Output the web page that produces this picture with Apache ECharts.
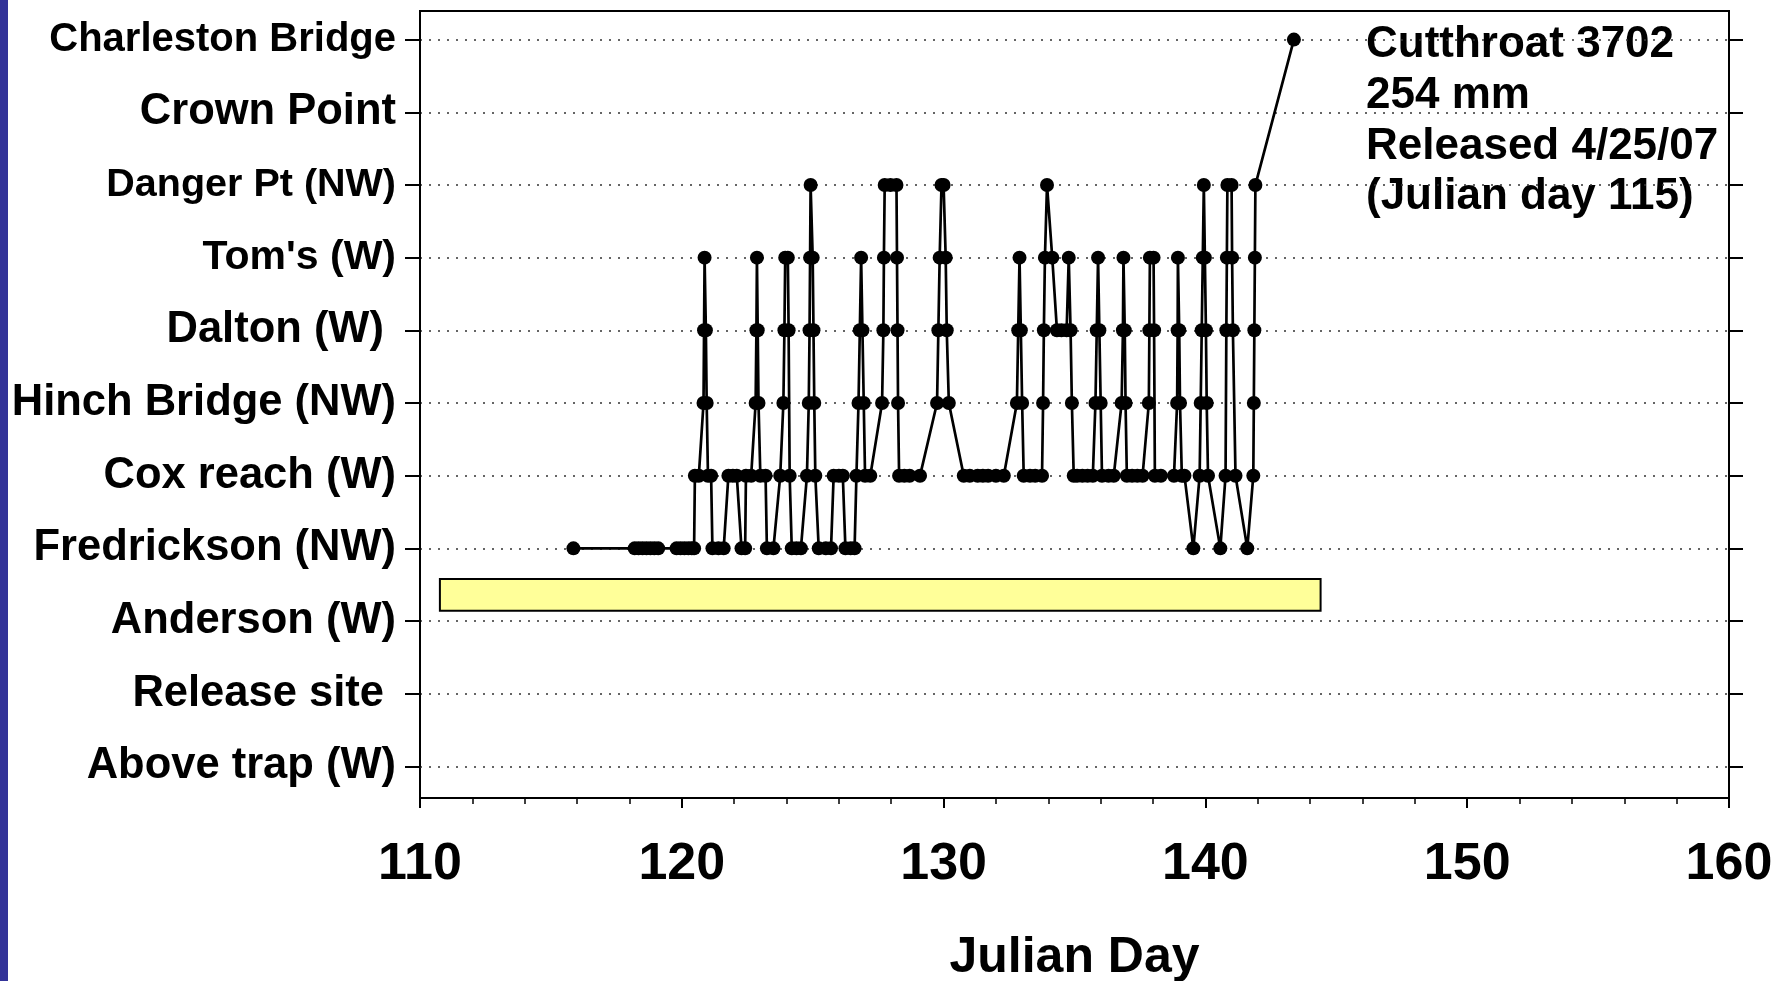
<!DOCTYPE html>
<html>
<head>
<meta charset="utf-8">
<script src="https://cdn.jsdelivr.net/npm/echarts@6/dist/echarts.min.js"></script>
<style>
  html, body { margin: 0; padding: 0; background: #fff; }
  #chart { width: 1775px; height: 981px; }
</style>
</head>
<body>
<div id="chart"></div>
<script>
// sites from bottom (0) to top (10)
const siteNames = [
  'Above trap (W)', 'Release site ', 'Anderson (W)', 'Fredrickson (NW)', 'Cox reach (W)',
  'Hinch Bridge (NW)', 'Dalton (W) ', "Tom's (W)", 'Danger Pt (NW)', 'Crown Point', 'Charleston Bridge'
];

// detections: julian day and site index, in order
const days = [115.86, 118.2, 118.35, 118.5, 118.65, 118.8, 118.95, 119.1, 119.8, 119.95, 120.1, 120.25,
  120.38, 120.47, 120.5, 120.65, 120.83, 120.85, 120.87, 120.92, 120.95, 121.0, 121.12, 121.17, 121.4,
  121.6, 121.78, 121.95, 122.1, 122.28, 122.42, 122.45, 122.65, 122.82, 122.85, 122.87, 122.9, 122.93,
  123.0, 123.2, 123.25, 123.5, 123.76, 123.88, 123.92, 123.95, 124.05, 124.08, 124.12, 124.2, 124.38,
  124.55, 124.78, 124.85, 124.88, 124.9, 124.92, 125.0, 125.03, 125.06, 125.1, 125.23, 125.5, 125.7,
  125.8, 126.0, 126.15, 126.25, 126.45, 126.6, 126.67, 126.75, 126.8, 126.85, 126.9, 126.95, 127.0,
  127.2, 127.65, 127.7, 127.72, 127.75, 127.97, 128.2, 128.22, 128.24, 128.26, 128.3, 128.5, 128.7,
  129.1, 129.75, 129.8, 129.85, 129.92, 130.0, 130.08, 130.12, 130.2, 130.77, 131.0, 131.3, 131.5,
  131.7, 132.0, 132.3, 132.8, 132.85, 132.9, 132.95, 133.0, 133.06, 133.3, 133.5, 133.76, 133.8,
  133.83, 133.87, 133.95, 134.15, 134.33, 134.5, 134.7, 134.78, 134.85, 134.9, 134.97, 135.1, 135.3,
  135.5, 135.7, 135.8, 135.85, 135.9, 135.95, 136.0, 136.05, 136.3, 136.5, 136.8, 136.85, 136.87,
  136.92, 136.95, 137.0, 137.2, 137.4, 137.6, 137.84, 137.86, 137.88, 138.02, 138.04, 138.07, 138.3,
  138.8, 138.92, 138.94, 138.95, 139.0, 139.03, 139.1, 139.2, 139.54, 139.78, 139.82, 139.86, 139.9,
  139.94, 139.98, 140.02, 140.05, 140.1, 140.57, 140.77, 140.8, 140.82, 140.84, 141.0, 141.02, 141.05,
  141.15, 141.6, 141.83, 141.85, 141.87, 141.89, 141.91, 143.38];
const sites = [3, 3, 3, 3, 3, 3, 3, 3, 3, 3, 3, 3,
  3, 3, 4, 4, 5, 6, 7, 6, 5, 4, 4, 3, 3,
  3, 4, 4, 4, 3, 3, 4, 4, 5, 6, 7, 6, 5,
  4, 4, 3, 3, 4, 5, 6, 7, 7, 6, 4, 3, 3,
  3, 4, 5, 6, 7, 8, 7, 6, 5, 4, 3, 3, 3,
  4, 4, 4, 3, 3, 3, 4, 5, 6, 7, 6, 5, 4,
  4, 5, 6, 7, 8, 8, 8, 7, 6, 5, 4, 4, 4,
  4, 5, 6, 7, 8, 8, 7, 6, 5, 4, 4, 4, 4,
  4, 4, 4, 5, 6, 7, 6, 5, 4, 4, 4, 4, 5,
  6, 7, 8, 7, 6, 6, 6, 7, 6, 5, 4, 4, 4,
  4, 4, 5, 6, 7, 6, 5, 4, 4, 4, 5, 6, 7,
  6, 5, 4, 4, 4, 4, 5, 6, 7, 7, 6, 4, 4,
  4, 5, 6, 7, 6, 5, 4, 4, 3, 4, 5, 6, 7,
  8, 7, 6, 5, 4, 3, 4, 6, 7, 8, 8, 7, 6,
  4, 3, 4, 5, 6, 7, 8, 10];

// yellow bar: [day start, day end], [site low, site high]
const barDays = [110.76, 144.4];
const barSpan = [2.14, 2.58];

const xTicks = { min: 110, max: 160, step: 10 };

const noteLines = ['Cutthroat 3702', '254 mm', 'Released 4/25/07', '(Julian day 115)'];

const font = "'Liberation Sans', Arial, sans-serif";

// the original labels are not all the same width; a few are set smaller
const labelStyle = { 7: 'c', 8: 'a', 10: 'b' };

const chart = echarts.init(document.getElementById('chart'));

const option = {
  animation: false,
  backgroundColor: '#fff',
  grid: [
    { // frame + x axis
      left: 420, right: 46, top: 11, bottom: 183, outerBoundsMode: 'none',
      show: true, borderColor: '#000', borderWidth: 2, backgroundColor: 'transparent'
    },
    { // the sites
      left: 420, right: 46, top: 39.6, bottom: 214.6, outerBoundsMode: 'none'
    }
  ],
  xAxis: [
    {
      gridIndex: 0,
      type: 'value',
      min: xTicks.min, max: xTicks.max, interval: xTicks.step,
      name: 'Julian Day',
      nameLocation: 'middle',
      nameGap: 135,
      nameTextStyle: { fontFamily: font, fontWeight: 'bold', fontSize: 50, color: '#000' },
      axisLine: { show: true, lineStyle: { color: '#000', width: 2 } },
      axisTick: { show: true, length: 10, lineStyle: { color: '#000', width: 2 } },
      minorTick: { show: true, splitNumber: 5, length: 6, lineStyle: { color: '#000', width: 1.5 } },
      axisLabel: { fontFamily: font, fontWeight: 'bold', fontSize: 52, color: '#000', margin: 41 },
      splitLine: { show: false }
    },
    {
      gridIndex: 1,
      type: 'value',
      min: xTicks.min, max: xTicks.max,
      show: false
    }
  ],
  yAxis: [
    {
      gridIndex: 0,
      type: 'value',
      show: false
    },
    {
      gridIndex: 1,
      type: 'value',
      min: 0, max: 10, interval: 1,
      axisLine: { show: true, lineStyle: { color: '#000', width: 2 } },
      axisTick: { show: true, length: 15, lineStyle: { color: '#000', width: 2 } },
      axisLabel: {
        fontFamily: font, fontWeight: 'bold', fontSize: 43.5, color: '#000', margin: 24,
        formatter: v => {
          const i = Math.round(v);
          return labelStyle[i] ? '{' + labelStyle[i] + '|' + siteNames[i] + '}' : siteNames[i];
        },
        rich: {
          a: { fontFamily: font, fontWeight: 'bold', fontSize: 39.5, color: '#000' },
          b: { fontFamily: font, fontWeight: 'bold', fontSize: 40, color: '#000' },
          c: { fontFamily: font, fontWeight: 'bold', fontSize: 41, color: '#000' }
        }
      },
      splitLine: { show: true, lineStyle: { color: '#333', width: 1.5, type: [2, 7] } }
    },
    {
      gridIndex: 1,
      type: 'value',
      position: 'right',
      min: 0, max: 10, interval: 1,
      axisLine: { show: true, lineStyle: { color: '#000', width: 2 } },
      axisTick: { show: true, length: 14, lineStyle: { color: '#000', width: 2 } },
      axisLabel: { show: false },
      splitLine: { show: false }
    }
  ],
  graphic: [
    { type: 'rect', left: 0, top: 0, shape: { width: 8, height: 981 }, style: { fill: '#333399' } },
    {
      type: 'text', left: 1366, top: 20,
      style: {
        text: noteLines.join('\n'),
        font: 'bold 44px ' + font,
        lineHeight: 50.6,
        fill: '#000'
      }
    }
  ],
  series: [
    {
      type: 'line',
      xAxisIndex: 1,
      yAxisIndex: 1,
      data: days.map((d, i) => [d, sites[i]]),
      symbol: 'circle',
      symbolSize: 14,
      itemStyle: { color: '#000' },
      lineStyle: { color: '#000', width: 2.7 },
      markArea: {
        silent: true,
        itemStyle: { color: '#FFFF99', borderColor: '#000', borderWidth: 2 },
        data: [[
          { xAxis: barDays[0], yAxis: barSpan[0] },
          { xAxis: barDays[1], yAxis: barSpan[1] }
        ]]
      }
    }
  ]
};

chart.setOption(option);
</script>
</body>
</html>
